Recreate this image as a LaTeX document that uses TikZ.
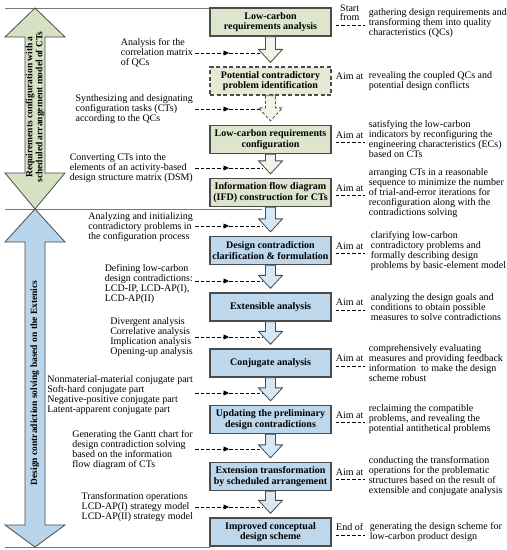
\documentclass[tikz,border=0pt]{standalone}
\usepackage{fontspec}
\setmainfont{Liberation Serif}
\usetikzlibrary{arrows.meta,calc}
\definecolor{gbox}{RGB}{221,229,204}
\definecolor{gboxl}{RGB}{228,234,214}
\definecolor{garrowc}{RGB}{214,225,196}
\definecolor{gpale}{RGB}{241,245,233}
\definecolor{bbox}{RGB}{189,215,236}
\definecolor{barrowc}{RGB}{185,213,236}
\definecolor{bpale}{RGB}{214,232,246}
\definecolor{edge}{RGB}{75,75,75}
\definecolor{sepc}{RGB}{120,120,120}
\newcommand\blockarr[3][]{%
  \draw[#1] let \p1=(#2.south), \p2=(#3.north) in
    (\x1-5pt,\y1) -- (\x1-5pt,\y2+17pt) -- (\x1-12pt,\y2+17pt) -- (\x1,\y2+4pt)
    -- (\x1+12pt,\y2+17pt) -- (\x1+5pt,\y2+17pt) -- (\x1+5pt,\y1) -- cycle;}
\newcommand\leftconn[2]{%
  \coordinate (m#1) at ($(#2)+(-34,0)$);
  \draw[ldash, -{Triangle[length=5.5pt,width=5pt]}] (l#1.east |- #2) -- (m#1);
  \draw[ldash] (m#1) -- (#2);}
\begin{document}
\begin{tikzpicture}[x=1pt,y=-1pt,
  box/.style={draw=edge, line width=1.3pt, minimum width=121pt, minimum height=28pt,
    align=center, font=\fontsize{10}{10.5}\selectfont\bfseries, inner sep=1pt},
  gb/.style={box, fill=gbox},
  gbd/.style={box, fill=gboxl, dashed, dash pattern=on 4pt off 2.5pt},
  bb/.style={box, fill=bbox},
  desc/.style={anchor=west, align=left, font=\fontsize{10}{10}\selectfont, inner sep=0pt},
  lefttxt/.style={anchor=east, align=left, font=\fontsize{10}{10}\selectfont, inner xsep=2pt, inner ysep=0pt},
  lab/.style={anchor=south, align=center, font=\fontsize{10}{9.5}\selectfont, inner sep=0pt},
  rdash/.style={draw=black, line width=0.7pt, dash pattern=on 3.5pt off 2pt},
  ldash/.style={draw=black, line width=0.7pt, dash pattern=on 3.5pt off 2pt},
  garr/.style={draw=edge, line width=0.8pt, fill=gpale},
  garrd/.style={garr, dashed, dash pattern=on 3pt off 2pt},
  barr/.style={draw=edge, line width=0.8pt, fill=bpale},
  bigtxt/.style={rotate=90, align=center, font=\fontsize{9.5}{10}\selectfont\bfseries, inner sep=0pt}
]
\useasboundingbox (0,0) rectangle (507,550);

% separators
\draw[sepc, line width=0.8pt] (5,8) -- (210,8);
\draw[sepc, line width=0.8pt] (5,209) -- (262,209);
\draw[sepc, line width=0.8pt] (5,547) -- (210,547);

% big left arrows
\draw[draw=edge, line width=0.8pt, fill=garrowc]
  (35,8) -- (65,37) -- (45,37) -- (45,173) -- (65,173) -- (35,209) -- (5,173)
  -- (25,173) -- (25,37) -- (5,37) -- cycle;
\draw[draw=edge, line width=0.8pt, fill=barrowc]
  (35,209) -- (65,242) -- (45,242) -- (45,525) -- (65,525) -- (35,547) -- (5,525)
  -- (25,525) -- (25,242) -- (5,242) -- cycle;
\node[bigtxt] (gt) at (35,107) {Requirements configuration with a\\scheduled arrangement model of CTs};
\node[bigtxt] (bt) at (35,383) {Design contradiction solving based on the Extenics};

% boxes
\node[gb]  (b1)  at (270.5,22)    {Low-carbon\\requirements analysis};
\node[gbd] (b2)  at (270.5,81)    {Potential contradictory\\problem identification};
\node[gb]  (b3)  at (270.5,139.5) {Low-carbon requirements\\configuration};
\node[gb]  (b4)  at (270.5,192.5) {Information flow diagram\\(IFD) construction for CTs};
\node[bb]  (b5)  at (270.5,250.5) {Design contradiction\\clarification \& formulation};
\node[bb]  (b6)  at (270.5,307)   {Extensible analysis};
\node[bb]  (b7)  at (270.5,363)   {Conjugate analysis};
\node[bb]  (b8)  at (270.5,419.5) {Updating the preliminary\\design contradictions};
\node[bb]  (b9)  at (270.5,476.5) {Extension transformation\\by scheduled arrangement};
\node[bb]  (b10) at (270.5,532)   {Improved conceptual\\design scheme};

% left texts
\node[lefttxt] (l1) at (195,53)  {Analysis for the\\correlation matrix\\of QCs};
\node[lefttxt] (l2) at (195,109) {Synthesizing and designating\\configuration tasks (CTs)\\according to the QCs};
\node[lefttxt] (l3) at (195,168) {Converting CTs into the\\elements of an activity-based\\design structure matrix (DSM)};
\node[lefttxt] (l4) at (195,227) {Analyzing and initializing\\contradictory problems in\\the configuration process};
\node[lefttxt] (l5) at (195,284) {Defining low-carbon\\design contradictions:\\LCD-IP, LCD-AP(I),\\LCD-AP(II)};
\node[lefttxt] (l6) at (195,337) {Divergent analysis\\Correlative analysis\\Implication analysis\\Opening-up analysis};
\node[lefttxt] (l7) at (195,395) {Nonmaterial-material conjugate part\\Soft-hard conjugate part\\Negative-positive conjugate part\\Latent-apparent conjugate part};
\node[lefttxt] (l8) at (195,450) {Generating the Gantt chart for\\design contradiction solving\\based on the information\\flow diagram of CTs};
\node[lefttxt] (l9) at (195,507) {Transformation operations\\LCD-AP(I) strategy model\\LCD-AP(II) strategy model};

% free ends of left connectors (at the block arrows)
\coordinate (t1) at (263,53);
\coordinate (t2) at (263,109);
\coordinate (t3) at (263,168);
\coordinate (t4) at (263,226);
\coordinate (t5) at (263,281);
\coordinate (t6) at (263,337);
\coordinate (t7) at (263,393);
\coordinate (t8) at (263,449);
\coordinate (t9) at (263,507);
\leftconn{1}{t1}
\leftconn{2}{t2}
\leftconn{3}{t3}
\leftconn{4}{t4}
\leftconn{5}{t5}
\leftconn{6}{t6}
\leftconn{7}{t7}
\leftconn{8}{t8}
\leftconn{9}{t9}

% block arrows between boxes
\blockarr[garr]{b1}{b2}
\blockarr[garrd]{b2}{b3}
\blockarr[garr]{b3}{b4}
\blockarr[barr]{b4}{b5}
\blockarr[barr]{b5}{b6}
\blockarr[barr]{b6}{b7}
\blockarr[barr]{b7}{b8}
\blockarr[barr]{b8}{b9}
\blockarr[barr]{b9}{b10}

% right labels and dashes
\node[lab] (r1)  at ($(b1.east)+(18,-1)$)  {Start\\from};
\node[lab] (r2)  at ($(b2.east)+(18,-1)$)  {Aim at};
\node[lab] (r3)  at ($(b3.east)+(18,-1)$)  {Aim at};
\node[lab] (r4)  at ($(b4.east)+(18,-1)$)  {Aim at};
\node[lab] (r5)  at ($(b5.east)+(18,-1)$)  {Aim at};
\node[lab] (r6)  at ($(b6.east)+(18,-1)$)  {Aim at};
\node[lab] (r7)  at ($(b7.east)+(18,-1)$)  {Aim at};
\node[lab] (r8)  at ($(b8.east)+(18,-1)$)  {Aim at};
\node[lab] (r9)  at ($(b9.east)+(18,-1)$)  {Aim at};
\node[lab] (r10) at ($(b10.east)+(18,-1)$) {End of};
\foreach \i in {1,3,4,5,6,7,8,9,10}{
  \draw[rdash] ($(b\i.east)+(4,3)$) -- ++(29,0);
}

% descriptions
\node[desc] (d1)  at ($(b1.east)+(37,1)$)  {gathering design requirements and\\transforming them into quality\\characteristics (QCs)};
\node[desc] (d2)  at ($(b2.east)+(37,0)$)  {revealing the coupled QCs and\\potential design conflicts};
\node[desc] (d3)  at ($(b3.east)+(37,0)$)  {satisfying the low-carbon\\indicators by reconfiguring the\\engineering characteristics (ECs)\\based on CTs};
\node[desc] (d4)  at ($(b4.east)+(37,1)$)  {arranging CTs in a reasonable\\sequence to minimize the number\\of trial-and-error iterations for\\reconfiguration along with the\\contradictions solving};
\node[desc] (d5)  at ($(b5.east)+(39,1)$)  {clarifying low-carbon\\contradictory problems and\\formally describing design\\problems by basic-element model};
\node[desc] (d6)  at ($(b6.east)+(39,0)$)  {analyzing the design goals and\\conditions to obtain possible\\measures to solve contradictions};
\node[desc] (d7)  at ($(b7.east)+(37,0)$)  {comprehensively evaluating\\measures and providing feedback\\information\ \ to make the design\\scheme robust};
\node[desc] (d8)  at ($(b8.east)+(37,0)$)  {reclaiming the compatible\\problems, and revealing the\\potential antithetical problems};
\node[desc] (d9)  at ($(b9.east)+(37,0)$)  {conducting the transformation\\operations for the problematic\\structures based on the result of\\extensible and conjugate analysis};
\node[desc] (d10) at ($(b10.east)+(38,0)$) {generating the design scheme for\\low-carbon product design};
\end{tikzpicture}
\end{document}
